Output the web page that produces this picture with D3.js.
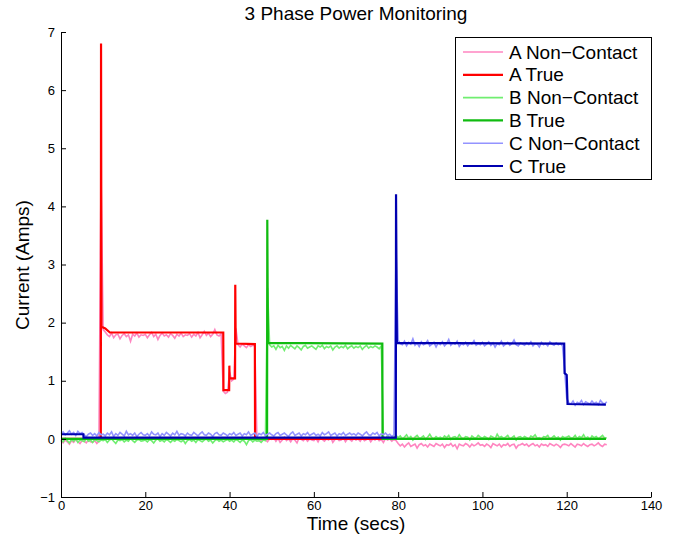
<!DOCTYPE html>
<html>
<head>
<meta charset="utf-8">
<script src="https://cdn.jsdelivr.net/npm/d3@7"></script>
<style>
  body { margin: 0; background: #fff; }
  svg { font-family: "Liberation Sans", Arial, Helvetica, sans-serif; }
</style>
</head>
<body>
<svg width="674" height="541"></svg>
<script>
// tick labels
var xTicks = [0, 20, 40, 60, 80, 100, 120, 140]
var yTicks = [-1, 0, 1, 2, 3, 4, 5, 6, 7]

var seriesNames = ["A Non\u2212Contact", "A True", "B Non\u2212Contact", "B True", "C Non\u2212Contact", "C True"]

// non-contact sensor readings, one every 0.5 s from t = 0
var ncTime = d3.range(0, 130, 0.5)

var aNonContact = [
  -0.04,-0.07,-0.02,-0.05,-0.09,-0.03,-0.06,-0.01,-0.05,-0.08,-0.03,-0.04,-0.07,-0.02,-0.05,-0.06,-0.03,-0.08,-0.04,4.55,
  1.88,1.84,1.79,1.76,1.82,1.74,1.79,1.8,1.72,1.78,1.81,1.76,1.79,1.68,1.8,1.77,1.82,1.75,1.79,1.78,
  1.8,1.74,1.79,1.83,1.76,1.8,1.71,1.78,1.82,1.77,1.79,1.75,1.81,1.78,1.73,1.8,1.77,1.82,1.76,1.79,
  1.78,1.81,1.75,1.8,1.77,1.83,1.74,1.79,1.85,1.78,1.82,1.76,1.8,1.88,1.79,1.77,1.81,0.82,0.78,0.8,
  1.15,1.0,1.03,1.9,1.62,1.58,1.63,1.6,1.57,1.62,1.59,1.61,1.6,-0.02,0.01,-0.04,0.02,-0.01,-0.05,0.0,
  -0.01,0.02,-0.04,0.01,-0.06,-0.02,0.03,-0.03,0.0,-0.05,0.01,-0.02,-0.07,0.02,-0.01,-0.03,0.01,-0.04,0.0,-0.02,
  -0.03,0.01,-0.05,0.02,-0.01,-0.04,0.0,-0.02,0.03,-0.06,-0.01,0.01,-0.03,-0.02,0.02,-0.05,0.0,-0.01,-0.04,0.01,
  -0.02,0.0,-0.04,0.02,-0.03,-0.01,0.01,-0.05,0.0,-0.02,0.02,-0.03,-0.01,-0.06,0.01,-0.02,0.0,-0.04,-0.01,-0.03,
  -0.08,-0.12,-0.09,-0.14,-0.1,-0.07,-0.13,-0.11,-0.09,-0.16,-0.1,-0.08,-0.12,-0.1,-0.14,-0.09,-0.11,-0.13,-0.08,-0.1,
  -0.12,-0.09,-0.15,-0.1,-0.11,-0.08,-0.13,-0.1,-0.17,-0.09,-0.11,-0.12,-0.08,-0.1,-0.14,-0.09,-0.12,-0.1,-0.07,-0.11,
  -0.1,-0.13,-0.09,-0.11,-0.15,-0.08,-0.1,-0.12,-0.09,-0.14,-0.1,-0.11,-0.08,-0.13,-0.1,-0.09,-0.16,-0.11,-0.1,-0.08,
  -0.11,-0.09,-0.13,-0.1,-0.08,-0.12,-0.1,-0.14,-0.09,-0.11,-0.1,-0.13,-0.08,-0.1,-0.12,-0.09,-0.11,-0.15,-0.1,-0.09,
  -0.1,-0.12,-0.08,-0.11,-0.14,-0.09,-0.1,-0.12,-0.08,-0.11,-0.13,-0.1,-0.09,-0.12,-0.1,-0.07,-0.11,-0.13,-0.09,-0.1
]

var bNonContact = [
  -0.02,-0.05,0.01,-0.03,-0.07,-0.01,-0.04,0.0,-0.06,-0.02,-0.03,-0.05,0.01,-0.04,-0.02,-0.06,-0.01,-0.03,-0.05,-0.02,
  -0.03,-0.01,-0.06,-0.02,0.0,-0.04,-0.08,-0.02,-0.03,-0.01,-0.05,-0.02,-0.04,0.01,-0.03,-0.06,-0.02,-0.01,-0.04,-0.03,
  -0.02,-0.05,-0.01,-0.03,-0.07,-0.02,0.0,-0.04,-0.02,-0.05,-0.01,-0.03,-0.06,-0.02,-0.04,-0.01,-0.03,-0.05,-0.02,-0.08,
  -0.03,-0.01,-0.04,-0.02,-0.06,-0.01,-0.03,-0.05,-0.02,0.0,-0.04,-0.02,-0.07,-0.03,-0.01,-0.04,-0.02,-0.05,-0.03,-0.01,
  -0.04,-0.02,-0.05,-0.01,-0.03,-0.06,-0.02,-0.04,-0.1,-0.03,-0.01,-0.05,-0.02,-0.04,-0.03,-0.06,-0.02,-0.03,2.6,1.62,
  1.58,1.6,1.54,1.61,1.57,1.59,1.52,1.6,1.56,1.61,1.58,1.55,1.6,1.57,1.53,1.59,1.61,1.56,1.58,1.6,
  1.57,1.54,1.6,1.58,1.61,1.55,1.59,1.57,1.6,1.53,1.58,1.6,1.56,1.59,1.57,1.61,1.55,1.58,1.6,1.56,
  1.59,1.57,1.6,1.54,1.58,1.61,1.56,1.59,1.57,1.6,1.58,1.55,1.6,0.04,0.01,0.05,0.02,-0.01,0.03,0.06,
  0.02,0.05,0.0,0.03,0.07,0.01,0.04,-0.02,0.03,0.06,0.01,0.02,0.05,-0.01,0.03,0.08,0.02,0.0,0.04,0.01,
  0.03,0.0,0.05,0.02,0.06,-0.01,0.03,0.04,0.01,0.07,0.02,0.0,0.04,0.03,-0.02,0.05,0.02,0.01,0.06,0.03,
  0.01,0.04,0.02,-0.01,0.05,0.03,0.0,0.08,0.02,0.04,0.01,0.03,0.06,0.0,0.02,0.05,-0.02,0.03,0.04,0.01,
  0.04,0.02,0.0,0.05,0.03,0.07,0.01,0.02,-0.01,0.04,0.03,0.06,0.0,0.02,0.05,0.01,0.03,-0.02,0.04,0.02,
  0.03,0.05,0.01,0.02,0.06,0.0,0.04,0.02,0.07,0.01,0.03,-0.01,0.05,0.02,0.04,0.0,0.03,0.06,0.01,0.02
]

var cNonContact = [
  0.09,0.12,0.07,0.1,0.14,0.08,0.11,0.06,0.13,0.09,0.11,0.07,0.04,0.08,0.1,0.06,0.09,0.05,0.11,0.07,
  0.08,0.05,0.1,0.07,0.12,0.04,0.09,0.06,0.11,0.08,0.05,0.13,0.07,0.09,0.06,0.1,0.04,0.08,0.11,0.07,
  0.06,0.09,0.05,0.12,0.08,0.07,0.1,0.04,0.09,0.06,0.11,0.08,0.05,0.1,0.07,0.13,0.06,0.09,0.08,0.05,
  0.1,0.07,0.06,0.11,0.08,0.05,0.09,0.12,0.07,0.06,0.1,0.08,0.04,0.09,0.11,0.07,0.06,0.1,0.08,0.05,
  0.09,0.07,0.11,0.06,0.08,0.1,0.05,0.09,0.07,0.12,0.06,0.08,0.1,0.04,0.09,0.07,0.11,0.06,0.08,0.1,
  0.07,0.05,0.09,0.11,0.06,0.08,0.1,0.07,0.04,0.09,0.12,0.06,0.08,0.1,0.05,0.09,0.07,0.11,0.06,0.08,
  0.1,0.06,0.08,0.05,0.11,0.07,0.09,0.12,0.06,0.08,0.1,0.05,0.09,0.07,0.11,0.06,0.08,0.1,0.07,0.09,
  0.06,0.1,0.08,0.05,0.09,0.12,0.07,0.06,0.1,0.08,0.11,0.05,0.09,0.07,0.1,0.06,0.08,0.04,0.07,3.25,
  1.7,1.64,1.62,1.68,1.6,1.66,1.63,1.72,1.61,1.65,1.59,1.67,1.62,1.64,1.69,1.6,1.63,1.66,1.58,1.65,
  1.62,1.67,1.6,1.64,1.71,1.61,1.65,1.63,1.68,1.59,1.64,1.62,1.66,1.6,1.65,1.63,1.69,1.61,1.64,1.62,
  1.66,1.6,1.63,1.67,1.61,1.65,1.58,1.64,1.62,1.68,1.6,1.63,1.66,1.61,1.64,1.7,1.62,1.6,1.65,1.63,
  1.61,1.65,1.62,1.67,1.6,1.64,1.63,1.58,1.66,1.62,1.64,1.6,1.67,1.63,1.61,1.65,1.62,1.64,1.6,1.2,
  0.7,0.62,0.6,0.65,0.58,0.63,0.61,0.66,0.59,0.64,0.62,0.6,0.65,0.61,0.63,0.59,0.66,0.62,0.6,0.64
]

// clamp meter readings: [time, amps] at each change
var aTrue = [[0,0],[9.45,0],[9.5,6.8],[9.6,1.93],[10.5,1.9],[11.6,1.83],[38.5,1.83],[38.55,0.84],[39.9,0.84],
  [39.95,1.26],[40.0,1.04],[41.3,1.04],[41.35,2.65],[41.45,1.64],[46.0,1.63],[46.05,0],[129.3,0]]
var bTrue = [[0,0],[48.9,0],[48.95,3.77],[49.1,1.65],[76.25,1.64],[76.3,0],[129.3,0]]
var cTrue = [[0,0.08],[5.3,0.08],[5.35,0.02],[79.45,0.02],[79.5,4.21],[79.7,1.65],[119.4,1.64],[119.5,1.13],
  [120.0,1.1],[120.2,0.6],[129.3,0.59]]

var colors = ["#ff85c0", "#ff0000", "#70ee70", "#10bb10", "#9393ff", "#0000b0"]
var widths = [1.6, 2.2, 1.6, 2.2, 1.6, 2.2]

var zip = function (vals) { return vals.map(function (v, i) { return [ncTime[i], v] }) }
var allSeries = [zip(aNonContact), aTrue, zip(bNonContact), bTrue, zip(cNonContact), cTrue]

var svg = d3.select('svg')

var x_scale = d3.scaleLinear().domain([0, 140]).range([61, 651])
var y_scale = d3.scaleLinear().domain([-1, 7]).range([497, 32])

var line = d3.line()
    .x(function (d) { return x_scale(d[0]) })
    .y(function (d) { return y_scale(d[1]) })

// series, drawn in plot order
svg.append('g')
    .selectAll('path')
    .data(allSeries)
    .enter()
    .append('path')
    .attr('d', line)
    .attr('fill', 'none')
    .attr('stroke', function (d, i) { return colors[i] })
    .attr('stroke-width', function (d, i) { return widths[i] })

// axes, ticks pointing in like matlab
var x_axis = d3.axisBottom(x_scale).tickValues(xTicks).tickSizeInner(-5).tickSizeOuter(0).tickPadding(4)
var y_axis = d3.axisLeft(y_scale).tickValues(yTicks).tickSizeInner(-5).tickSizeOuter(0).tickPadding(6)

svg.append('g').attr('transform', 'translate(0,497)').call(x_axis)
svg.append('g').attr('transform', 'translate(61,0)').call(y_axis)

svg.selectAll('.domain, .tick line').attr('stroke', '#000')
svg.selectAll('.tick text').attr('fill', '#000').style('font-size', '13px')
    .style('font-family', '"Liberation Sans", Arial, sans-serif')

svg.append('text')
    .attr('x', 356).attr('y', 20)
    .attr('text-anchor', 'middle')
    .style('font-size', '19px')
    .text('3 Phase Power Monitoring')

svg.append('text')
    .attr('x', 356).attr('y', 530)
    .attr('text-anchor', 'middle')
    .style('font-size', '19px')
    .text('Time (secs)')

svg.append('text')
    .attr('transform', 'translate(29,265) rotate(-90)')
    .attr('text-anchor', 'middle')
    .style('font-size', '19px')
    .text('Current (Amps)')

// legend
var legend = svg.append('g')
legend.append('rect')
    .attr('x', 455.5).attr('y', 37.5)
    .attr('width', 196).attr('height', 142)
    .attr('fill', '#fff').attr('stroke', '#000')

var rows = legend.selectAll('g.row')
    .data(seriesNames)
    .enter()
    .append('g')
    .attr('class', 'row')
    .attr('transform', function (d, i) { return 'translate(0,' + (52 + i * 22.8) + ')' })

rows.append('line')
    .attr('x1', 463).attr('x2', 503)
    .attr('stroke', function (d, i) { return colors[i] })
    .attr('stroke-width', function (d, i) { return widths[i] })

rows.append('text')
    .attr('x', 509).attr('dy', '0.35em')
    .style('font-size', '19px')
    .text(function (d) { return d })
</script>
</body>
</html>
